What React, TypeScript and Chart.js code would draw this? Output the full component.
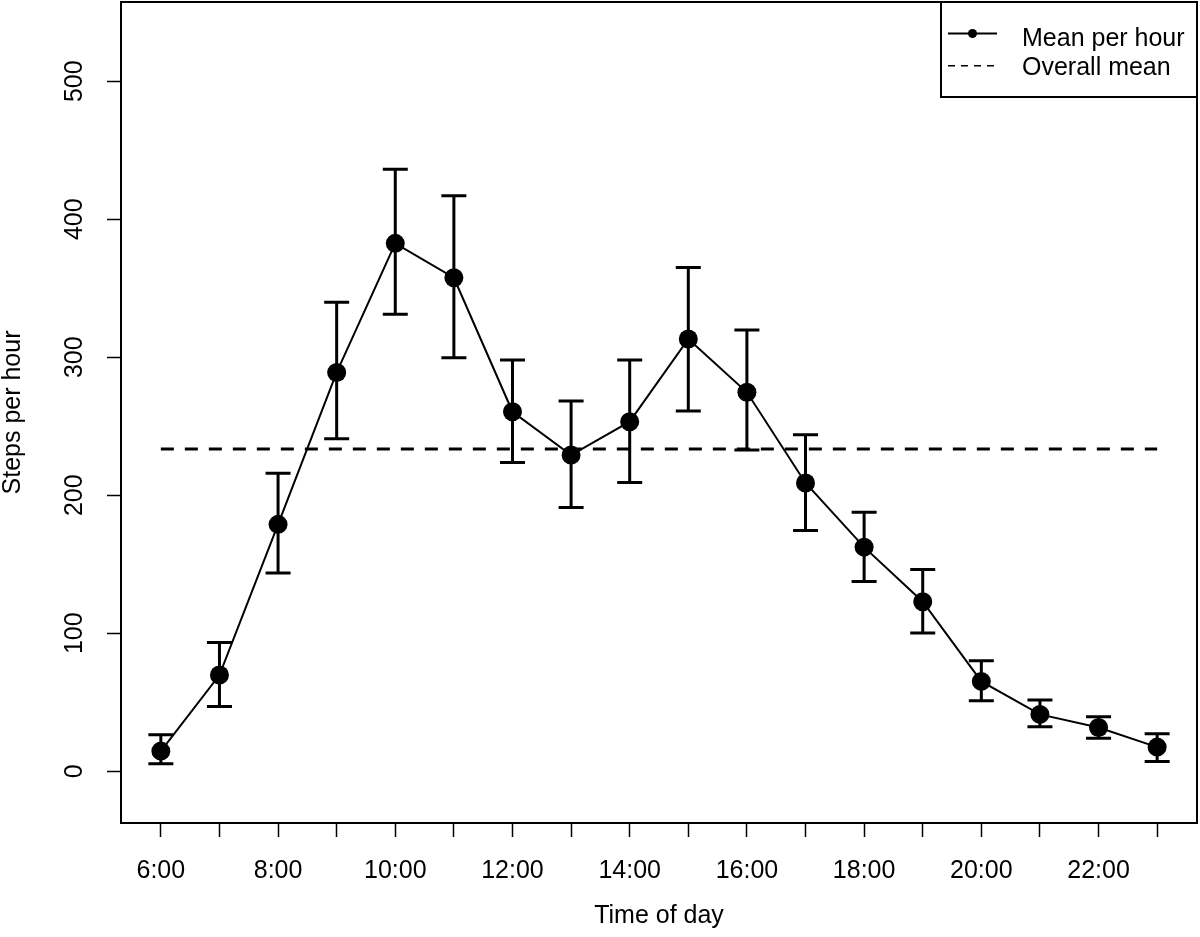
import React, { useEffect, useRef } from "react";
import { Chart, registerables } from "chart.js";

Chart.register(...registerables);

// ---- data ----
const hours = [6, 7, 8, 9, 10, 11, 12, 13, 14, 15, 16, 17, 18, 19, 20, 21, 22, 23];
const labeledHours = [6, 8, 10, 12, 14, 16, 18, 20, 22];
const meanSteps = [14.6, 69.7, 178.9, 289.0, 382.5, 357.6, 260.5, 229.1, 253.3, 313.2, 274.6, 208.9, 162.4, 122.8, 65.1, 41.2, 31.7, 17.5];
const upperSteps = [26.5, 93.3, 215.9, 339.8, 436.2, 417.0, 298.0, 268.3, 298.0, 365.1, 319.7, 243.9, 187.7, 146.1, 80.1, 51.6, 39.4, 27.2];
const lowerSteps = [5.4, 46.9, 143.7, 240.9, 331.1, 299.6, 223.8, 191.2, 209.3, 261.0, 232.8, 174.5, 137.5, 100.2, 51.1, 32.2, 23.9, 7.1];
const overallMean = 233.5;
const yTickValues = [0, 100, 200, 300, 400, 500];
const legendLabels = ["Mean per hour", "Overall mean"];
const xTitle = "Time of day";
const yTitle = "Steps per hour";

const FONT = "'Liberation Sans', Arial, Helvetica, sans-serif";
const FONT_SIZE = 25;

const errorBarPlugin = {
  id: "errorBars",
  beforeDatasetsDraw(chart: any) {
    const { ctx, scales } = chart;
    const x = scales.x;
    const y = scales.y;
    ctx.save();
    ctx.strokeStyle = "#000";
    ctx.lineWidth = 3;
    ctx.lineCap = "butt";
    const half = 12.5;
    hours.forEach((h, i) => {
      const px = x.getPixelForValue(h);
      const top = y.getPixelForValue(upperSteps[i]);
      const bot = y.getPixelForValue(lowerSteps[i]);
      ctx.beginPath();
      ctx.moveTo(px, top);
      ctx.lineTo(px, bot);
      ctx.moveTo(px - half, top);
      ctx.lineTo(px + half, top);
      ctx.moveTo(px - half, bot);
      ctx.lineTo(px + half, bot);
      ctx.stroke();
    });
    ctx.restore();
  },
};

const decorPlugin = {
  id: "decor",
  afterDraw(chart: any) {
    const { ctx, chartArea, scales } = chart;
    const y = scales.y;
    ctx.save();
    // plot frame
    ctx.strokeStyle = "#000";
    ctx.lineWidth = 2;
    ctx.strokeRect(chartArea.left, chartArea.top, chartArea.right - chartArea.left, chartArea.bottom - chartArea.top);

    // rotated y tick labels
    ctx.fillStyle = "#000";
    ctx.font = `${FONT_SIZE}px ${FONT}`;
    ctx.textAlign = "center";
    ctx.textBaseline = "middle";
    yTickValues.forEach((v) => {
      ctx.save();
      ctx.translate(chartArea.left - 46, y.getPixelForValue(v));
      ctx.rotate(-Math.PI / 2);
      ctx.fillText(String(v), 0, 0);
      ctx.restore();
    });

    // legend
    const lw = 256;
    const lh = 95;
    const lx = chartArea.right - lw;
    const ly = chartArea.top;
    ctx.fillStyle = "#fff";
    ctx.fillRect(lx, ly, lw, lh);
    ctx.strokeStyle = "#000";
    ctx.lineWidth = 2;
    ctx.strokeRect(lx, ly, lw, lh);

    const row1 = ly + 31.5;
    const row2 = ly + 63.7;
    const sx1 = lx + 7;
    const sx2 = lx + 56;
    // item 1: line with point
    ctx.lineWidth = 2;
    ctx.setLineDash([]);
    ctx.beginPath();
    ctx.moveTo(sx1, row1);
    ctx.lineTo(sx2, row1);
    ctx.stroke();
    ctx.fillStyle = "#000";
    ctx.beginPath();
    ctx.arc((sx1 + sx2) / 2, row1, 4.5, 0, Math.PI * 2);
    ctx.fill();
    // item 2: dashed line
    ctx.lineWidth = 1.5;
    ctx.setLineDash([7, 6]);
    ctx.beginPath();
    ctx.moveTo(sx1, row2);
    ctx.lineTo(sx2, row2);
    ctx.stroke();
    ctx.setLineDash([]);

    ctx.font = `${FONT_SIZE}px ${FONT}`;
    ctx.textAlign = "left";
    ctx.textBaseline = "alphabetic";
    ctx.fillText(legendLabels[0], lx + 81, ly + 43.5);
    ctx.fillText(legendLabels[1], lx + 81, ly + 73);
    ctx.restore();
  },
};

export default function App() {
  const canvasRef = useRef<HTMLCanvasElement | null>(null);

  useEffect(() => {
    const canvas = canvasRef.current;
    if (!canvas) return;
    const chart = new Chart(canvas, {
      type: "line",
      data: {
        datasets: [
          {
            label: legendLabels[0],
            data: hours.map((h, i) => ({ x: h, y: meanSteps[i] })),
            borderColor: "#000",
            backgroundColor: "#000",
            borderWidth: 2,
            pointRadius: 9.5,
            pointHoverRadius: 9.5,
            pointBackgroundColor: "#000",
            pointBorderWidth: 0,
            tension: 0,
            fill: false,
          },
          {
            label: legendLabels[1],
            data: [
              { x: hours[0], y: overallMean },
              { x: hours[hours.length - 1], y: overallMean },
            ],
            borderColor: "#000",
            borderWidth: 3,
            borderDash: [13, 11],
            pointRadius: 0,
            pointHoverRadius: 0,
            fill: false,
          },
        ],
      },
      options: {
        responsive: false,
        maintainAspectRatio: false,
        animation: false,
        events: [],
        layout: { autoPadding: false, padding: { top: 2, right: 3, left: 0, bottom: 0 } },
        font: { family: FONT, size: FONT_SIZE },
        color: "#000",
        plugins: {
          legend: { display: false },
          tooltip: { enabled: false },
        },
        scales: {
          x: {
            type: "linear",
            min: 5.32,
            max: 23.68,
            afterBuildTicks: (s: any) => {
              s.ticks = hours.map((v) => ({ value: v }));
            },
            afterFit: (s: any) => {
              s.height = 114;
            },
            ticks: {
              autoSkip: false,
              maxRotation: 0,
              minRotation: 0,
              padding: 19,
              color: "#000",
              font: { family: FONT, size: FONT_SIZE },
              callback: (v: any) => (labeledHours.includes(Number(v)) ? `${v}:00` : ""),
            },
            grid: {
              display: true,
              drawOnChartArea: false,
              drawTicks: true,
              tickLength: 14,
              tickWidth: 1.5,
              tickColor: "#000",
            },
            border: { display: false },
            title: {
              display: true,
              text: xTitle,
              color: "#000",
              font: { family: FONT, size: FONT_SIZE },
              padding: { top: 0, bottom: 6 },
            },
          },
          y: {
            type: "linear",
            min: -37.5,
            max: 557.4,
            afterBuildTicks: (s: any) => {
              s.ticks = yTickValues.map((v) => ({ value: v }));
            },
            afterFit: (s: any) => {
              s.width = 121;
            },
            ticks: { display: false },
            grid: {
              display: true,
              drawOnChartArea: false,
              drawTicks: true,
              tickLength: 14,
              tickWidth: 1.5,
              tickColor: "#000",
            },
            border: { display: false },
            title: {
              display: true,
              text: yTitle,
              color: "#000",
              font: { family: FONT, size: FONT_SIZE },
              padding: { top: -2, bottom: 0 },
            },
          },
        },
      },
      plugins: [errorBarPlugin, decorPlugin],
    } as any);
    return () => chart.destroy();
  }, []);

  return (
    <div style={{ position: "absolute", left: 0, top: 0, width: 1200, height: 937, background: "#fff" }}>
      <canvas ref={canvasRef} width={1200} height={937} style={{ display: "block" }} />
    </div>
  );
}
